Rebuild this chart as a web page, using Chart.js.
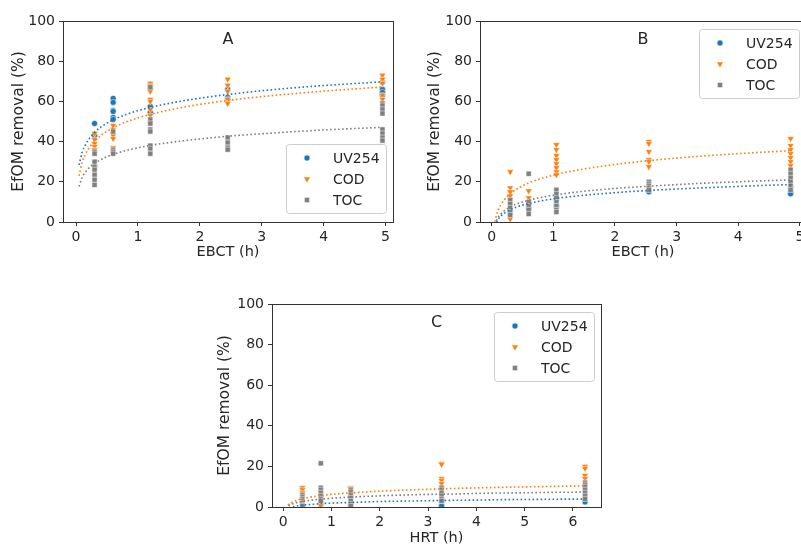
<!DOCTYPE html>
<html><head><meta charset="utf-8">
<script src="https://cdn.jsdelivr.net/npm/chart.js@4/dist/chart.umd.min.js"></script>
<style>
html,body{margin:0;padding:0;width:801px;height:545px;overflow:hidden;background:#fff;}
canvas{position:absolute;}
</style></head><body>
<canvas id="cA" width="400" height="265" style="left:0;top:0"></canvas>
<canvas id="cB" width="420" height="265" style="left:400px;top:0"></canvas>
<canvas id="cC" width="410" height="270" style="left:200px;top:280px"></canvas>
<script>
// ---------- data ----------
const seriesNames = ['UV254', 'COD', 'TOC'];
const yTicks = [0, 20, 40, 60, 80, 100];

// Panel A (EBCT)
const A_x = [0.3, 0.6, 1.2, 2.45, 4.95];
const A_UV = [[49, 43, 27.5], [61.5, 59.5, 55.5, 55, 52, 51], [68, 66, 57.5, 54.5], [66, 62, 61], [69.5, 66, 64.5, 63]];
const A_COD = [[44, 41, 39, 37.5, 36, 34.5], [48, 46, 43, 41.5, 37], [69, 68, 65, 61, 60, 56, 53, 49], [71, 68, 65, 61, 59.5, 59], [73, 71, 69, 63, 61, 59]];
const A_TOC = [[35, 34, 30, 27.5, 26, 23.5, 21, 18.5], [45, 36, 35, 34], [67, 51, 49, 46, 45, 38, 36.5, 34], [42, 39.5, 37, 36], [59, 58, 56, 54, 46, 44, 42, 40.5]];
const A_fitX = [0.05, 0.1, 0.15, 0.2, 0.3, 0.4, 0.5, 0.6, 0.8, 1, 1.2, 1.5, 2, 2.5, 3, 3.5, 4, 4.5, 4.95];
const A_fitUV = [28.4, 34.7, 38.3, 40.9, 44.6, 47.2, 49.2, 50.8, 53.4, 55.4, 57.0, 59.0, 61.6, 63.6, 65.3, 66.7, 67.9, 68.9, 69.8];
const A_fitCOD = [23.0, 29.7, 33.6, 36.4, 40.2, 43.0, 45.1, 46.9, 49.7, 51.8, 53.5, 55.7, 58.5, 60.6, 62.4, 63.8, 65.1, 66.2, 67.2];
const A_fitTOC = [17.7, 22.2, 24.8, 26.6, 29.2, 31.0, 32.5, 33.6, 35.5, 36.9, 38.1, 39.5, 41.3, 42.8, 43.9, 44.9, 45.8, 46.5, 47.1];
const A_xTicks = [0, 1, 2, 3, 4, 5];

// Panel B (EBCT)
const B_x = [0.3, 0.6, 1.05, 2.55, 4.85];
const B_UV = [[5.5, 4], [7.5, 6.5], [12, 11, 8.5, 7.5], [15.5, 15], [17, 15, 14]];
const B_COD = [[25, 17, 15, 13, 11, 9, 6, 3, 1.5], [15.5, 12, 10, 8], [38.5, 36, 33, 31, 29, 27, 25, 23.5], [40, 39, 35, 31, 30, 27.5], [41.5, 38, 36, 34, 32, 30, 28]];
const B_TOC = [[11, 9, 7, 5, 3.5], [24, 10, 8, 6, 4], [16, 14, 12, 10, 8, 6, 5], [20, 19, 18, 17, 16], [26, 24, 22, 20, 18, 16]];
const B_fitX = [0.05, 0.1, 0.15, 0.2, 0.3, 0.4, 0.5, 0.6, 0.8, 1, 1.2, 1.5, 2, 2.5, 3, 3.5, 4, 4.5, 4.85];
const B_fitUV = [-2.0, 1.1, 3.0, 4.3, 6.1, 7.4, 8.4, 9.2, 10.5, 11.5, 12.3, 13.3, 14.6, 15.6, 16.4, 17.1, 17.7, 18.3, 18.6];
const B_fitCOD = [0.2, 5.6, 8.7, 10.9, 14.0, 16.2, 18.0, 19.4, 21.6, 23.3, 24.7, 26.4, 28.6, 30.4, 31.8, 33.0, 34.0, 34.9, 35.5];
const B_fitTOC = [-1.2, 2.2, 4.1, 5.5, 7.5, 8.9, 10.0, 10.8, 12.2, 13.3, 14.2, 15.3, 16.7, 17.7, 18.6, 19.4, 20.0, 20.6, 20.9];
const B_xTicks = [0, 1, 2, 3, 4, 5];

// Panel C (HRT)
const C_x = [0.4, 0.78, 1.4, 3.28, 6.25];
const C_UV = [[1, 0.5], [2.5, 1.5], [1, 0.5], [3, 1, 0.5], [4, 3, 2.5]];
const C_COD = [[9.5, 8.5, 7, 5.5], [7, 5, 3.5, 1, 0.5], [9.5, 9, 6, 5, 4], [21.5, 21, 14, 13, 11.5, 9, 3.5], [20, 19, 15.5, 14, 6.5, 5]];
const C_TOC = [[6, 5, 4, 3, 2, 1, 0.5], [21.5, 9.5, 8.5, 7, 5.5, 4, 3], [8.5, 7.5, 6, 4.5, 3, 1.5, 0.5], [9.5, 8.5, 7, 5.5, 4, 3], [12, 11, 10, 8.5, 7, 5.5, 4]];
const C_fitX = [0.05, 0.1, 0.15, 0.2, 0.3, 0.4, 0.5, 0.6, 0.8, 1, 1.2, 1.5, 2, 2.5, 3, 3.5, 4, 4.5, 5, 5.5, 6, 6.25];
const C_fitUV = [-1.4, -0.6, -0.2, 0.1, 0.6, 0.9, 1.1, 1.3, 1.7, 1.9, 2.1, 2.3, 2.7, 2.9, 3.1, 3.3, 3.4, 3.6, 3.7, 3.8, 3.9, 3.9];
const C_fitCOD = [-0.7, 0.9, 1.8, 2.5, 3.4, 4.1, 4.6, 5.0, 5.7, 6.2, 6.6, 7.1, 7.8, 8.3, 8.7, 9.1, 9.4, 9.7, 9.9, 10.1, 10.3, 10.4];
const C_fitTOC = [-0.8, 0.4, 1.1, 1.6, 2.3, 2.7, 3.1, 3.4, 3.9, 4.3, 4.6, 5.0, 5.5, 5.9, 6.2, 6.4, 6.7, 6.9, 7.0, 7.2, 7.3, 7.4];
const C_xTicks = [0, 1, 2, 3, 4, 5, 6];

// ---------- styling ----------
const COL = ['#1f77b4', '#ff7f0e', '#7f7f7f'];
const SHAPE = ['circle', 'triangle', 'rect'];
const RAD = [3, 3.9, 3.6];
const ROT = [0, 180, 0];
const TXT = '#262626';
const AX = '#333333';
Chart.defaults.font.family = "'DejaVu Sans', sans-serif";
Chart.defaults.color = TXT;

function pts(xs, cols) { return cols.flatMap((vals, i) => vals.map(v => ({x: xs[i], y: v}))); }
function fitPts(xs, ys) { return xs.map((x, i) => ({x: x, y: ys[i]})); }

function marker(ctx, shape, x, y, r, color) {
  ctx.save();
  ctx.fillStyle = color; ctx.strokeStyle = '#fff'; ctx.lineWidth = 0.5;
  ctx.beginPath();
  if (shape === 'circle') ctx.arc(x, y, r, 0, Math.PI * 2);
  else if (shape === 'triangle') {
    const w = r * Math.sin(Math.PI / 3), h = r * 0.5;
    ctx.moveTo(x, y + r); ctx.lineTo(x - w, y - h); ctx.lineTo(x + w, y - h); ctx.closePath();
  } else { const s = r * Math.SQRT1_2; ctx.rect(x - s, y - s, 2 * s, 2 * s); }
  ctx.fill(); ctx.stroke();
  ctx.restore();
}

const framePlugin = {
  id: 'frame',
  afterDatasetsDraw(chart) {
    const {ctx, chartArea: a} = chart;
    ctx.save();
    ctx.strokeStyle = AX; ctx.lineWidth = 1;
    const l = Math.round(a.left) + 0.5, t = Math.round(a.top) + 0.5;
    const r = Math.round(a.right) + 0.5, b = Math.round(a.bottom) + 0.5;
    ctx.strokeRect(l, t, r - l, b - t);
    ctx.restore();
  }
};

const decorPlugin = {
  id: 'decor',
  afterDraw(chart, args, opts) {
    const {ctx, chartArea: a} = chart;
    ctx.save();
    // panel letter
    ctx.fillStyle = TXT; ctx.font = "16px 'DejaVu Sans'";
    ctx.textAlign = 'center'; ctx.textBaseline = 'middle';
    ctx.fillText(opts.letter, (a.left + a.right) / 2, a.top + 19);
    // legend box
    const w = 100, h = 69;
    const x = Math.round(a.right) - 7 - w;
    const y = opts.loc === 'lower' ? Math.round(a.bottom) - 9 - h : Math.round(a.top) + 8;
    ctx.beginPath();
    ctx.roundRect(x + 0.5, y + 0.5, w, h, 3);
    ctx.fillStyle = 'rgba(255,255,255,0.85)'; ctx.fill();
    ctx.strokeStyle = '#cccccc'; ctx.lineWidth = 1; ctx.stroke();
    ctx.font = "14px 'DejaVu Sans'"; ctx.textAlign = 'left';
    seriesNames.forEach((name, i) => {
      const cy = y + 14 + i * 21;
      marker(ctx, SHAPE[i], x + 21, cy, RAD[i], COL[i]);
      ctx.fillStyle = TXT;
      ctx.fillText(name, x + 47, cy + 1);
    });
    ctx.restore();
  }
};

function makeChart(id, p) {
  const scatterSets = p.series.map((cols, i) => ({
    label: seriesNames[i], data: pts(p.xs, cols),
    pointStyle: SHAPE[i], pointRadius: RAD[i], pointRotation: ROT[i],
    backgroundColor: COL[i], borderColor: '#ffffff', borderWidth: 0.5,
    showLine: false, order: 3 - i
  }));
  const fitSets = p.fits.map((ys, i) => ({
    label: seriesNames[i] + ' fit', data: fitPts(p.fitX, ys),
    showLine: true, pointRadius: 0, pointHitRadius: 0,
    borderColor: COL[i], borderWidth: 1.6, borderDash: [1.6, 2.4],
    cubicInterpolationMode: 'monotone', fill: false, order: -1
  }));
  return new Chart(document.getElementById(id), {
    type: 'scatter',
    data: {datasets: scatterSets.concat(fitSets)},
    options: {
      responsive: false, animation: false, devicePixelRatio: 1, events: [],
      layout: {padding: p.pad},
      plugins: {legend: {display: false}, tooltip: {enabled: false},
        decor: {letter: p.letter, loc: p.loc}},
      scales: {
        x: {
          type: 'linear', min: p.xmin, max: p.xmax,
          afterBuildTicks: s => { s.ticks = p.xTicks.map(v => ({value: v})); },
          afterFit: s => { s.height = 43; },
          grid: {drawOnChartArea: false, drawTicks: true, tickLength: 4, tickColor: AX},
          border: {display: false},
          ticks: {font: {size: 14}, color: TXT, padding: 3, maxRotation: 0},
          title: {display: true, text: p.xTitle, font: {size: 14.5}, color: TXT,
            padding: {top: 0, bottom: p.xTitlePad}}
        },
        y: {
          type: 'linear', min: 0, max: 100,
          afterBuildTicks: s => { s.ticks = yTicks.map(v => ({value: v})); },
          afterFit: s => { s.width = p.yW; },
          grid: {drawOnChartArea: false, drawTicks: true, tickLength: 4, tickColor: AX},
          border: {display: false},
          ticks: {font: {size: 14}, color: TXT, padding: 4},
          title: {display: true, text: 'EfOM removal (%)', font: {size: 15.5}, color: TXT,
            padding: {top: p.yTitlePad, bottom: 0}}
        }
      }
    },
    plugins: [framePlugin, decorPlugin]
  });
}

makeChart('cA', {xs: A_x, series: [A_UV, A_COD, A_TOC], fitX: A_fitX, fits: [A_fitUV, A_fitCOD, A_fitTOC],
  xTicks: A_xTicks, xmin: -0.21, xmax: 5.12, xTitle: 'EBCT (h)', letter: 'A', loc: 'lower',
  pad: {top: 21, right: 7, bottom: 0, left: 0}, yW: 63, yTitlePad: 10, xTitlePad: 4});
makeChart('cB', {xs: B_x, series: [B_UV, B_COD, B_TOC], fitX: B_fitX, fits: [B_fitUV, B_fitCOD, B_fitTOC],
  xTicks: B_xTicks, xmin: -0.19, xmax: 5.1, xTitle: 'EBCT (h)', letter: 'B', loc: 'upper',
  pad: {top: 21, right: 14, bottom: 0, left: 0}, yW: 80, yTitlePad: 26, xTitlePad: 4});
makeChart('cC', {xs: C_x, series: [C_UV, C_COD, C_TOC], fitX: C_fitX, fits: [C_fitUV, C_fitCOD, C_fitTOC],
  xTicks: C_xTicks, xmin: -0.23, xmax: 6.58, xTitle: 'HRT (h)', letter: 'C', loc: 'upper',
  pad: {top: 24, right: 9, bottom: 0, left: 0}, yW: 72, yTitlePad: 16, xTitlePad: 3});
</script>
</body></html>
